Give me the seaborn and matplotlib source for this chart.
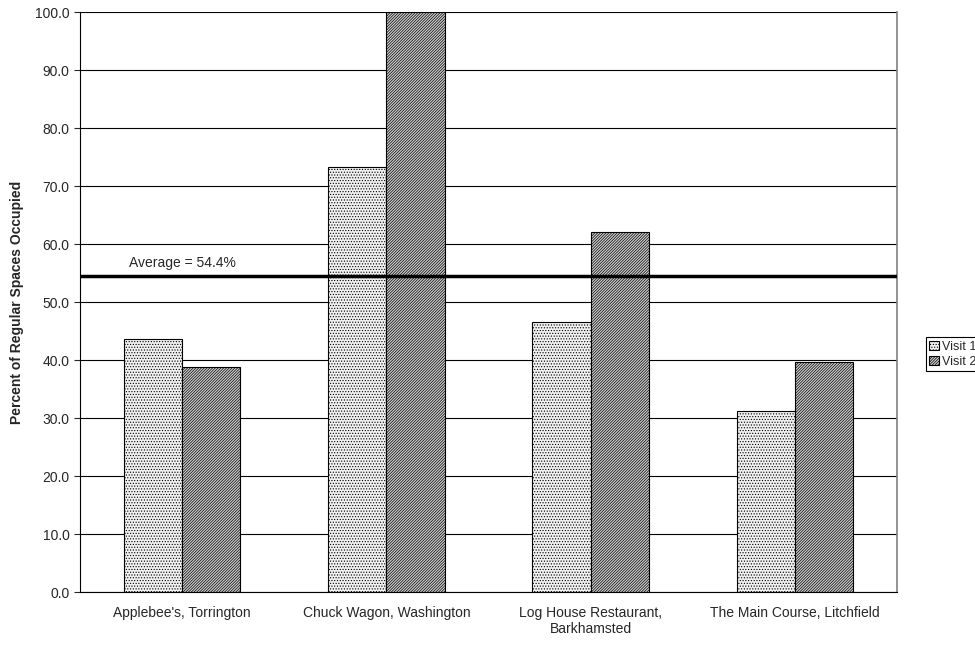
import pandas as pd
import matplotlib
matplotlib.use('Agg')
import matplotlib.pyplot as plt
import seaborn as sns

# Chart data
restaurants = ["Applebee's, Torrington", "Chuck Wagon, Washington",
               "Log House Restaurant,\nBarkhamsted", "The Main Course, Litchfield"]
visit_1 = [43.7, 73.2, 46.5, 31.2]
visit_2 = [38.8, 100.0, 62.0, 39.6]
average = 54.4

df = pd.DataFrame({
    'restaurant': restaurants * 2,
    'visit': ['Visit 1'] * 4 + ['Visit 2'] * 4,
    'pct': visit_1 + visit_2,
})

sns.set_style('white')
plt.rcParams['font.family'] = ['Liberation Sans', 'DejaVu Sans']
plt.rcParams['hatch.linewidth'] = 0.5

fig = plt.figure(figsize=(9.75, 6.46), dpi=100)
ax = fig.add_axes([80 / 975, 1 - 592 / 646, 817 / 975, 580 / 646])

# horizontal gridlines behind the bars
ax.set_axisbelow(True)
ax.yaxis.grid(True, color='black', linewidth=0.8)

sns.barplot(data=df, x='restaurant', y='pct', hue='visit', ax=ax,
            palette=['#f0f0f0', '#cfcfcf'], width=0.57, errorbar=None,
            edgecolor='black', linewidth=0.8, saturation=1)

# fill patterns: fine dots for visit 1, dense diagonal hatch for visit 2
hatches = {'Visit 1': '......', 'Visit 2': '////////////'}
for container, name in zip(ax.containers, ['Visit 1', 'Visit 2']):
    for bar in container:
        bar.set_hatch(hatches[name])
        bar.set_edgecolor('black')

# average line with label
ax.axhline(average, color='black', linewidth=2.5, zorder=5)
ax.text(0.06, average + 1.2, f'Average = {average}%', transform=ax.get_yaxis_transform(),
        fontsize=10, ha='left', va='bottom')

ax.set_ylim(0, 100)
ax.set_xlim(-0.5, 3.5)
ax.set_yticks(range(0, 101, 10))
ax.set_yticklabels([f'{v:.1f}' for v in range(0, 101, 10)], fontsize=10)
ax.tick_params(axis='x', labelsize=10, length=0, pad=10)
ax.tick_params(axis='y', length=4, left=True, direction='out')
ax.set_xlabel('')
ax.set_ylabel('Percent of Regular Spaces Occupied', fontsize=10, fontweight='bold', labelpad=8)

for side in ['left', 'bottom']:
    ax.spines[side].set_color('black')
    ax.spines[side].set_linewidth(0.8)
ax.spines['top'].set_visible(False)
ax.spines['right'].set_color('gray')
ax.spines['right'].set_linewidth(1.2)

leg = ax.legend(loc='center left', bbox_to_anchor=(1.035, 0.41), fontsize=9,
                frameon=True, fancybox=False, edgecolor='black', framealpha=1,
                handlelength=0.8, handleheight=0.8, handletextpad=0.25,
                borderpad=0.25, labelspacing=0.25, borderaxespad=0)
leg.get_frame().set_linewidth(0.8)
for handle, name in zip(leg.legend_handles, ['Visit 1', 'Visit 2']):
    handle.set_hatch(hatches[name])
    handle.set_edgecolor('black')

fig.savefig('out.png', dpi=100)
